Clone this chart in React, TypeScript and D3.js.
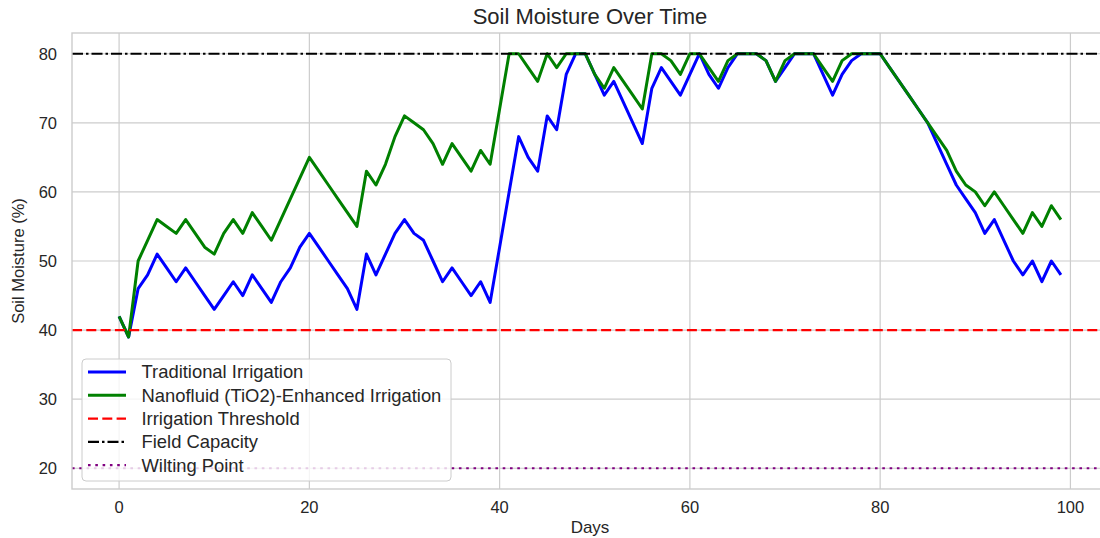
import * as d3 from 'd3';

const days = d3.range(0, 100);

const traditional = [
  42, 39, 46, 48, 51, 49, 47, 49, 47, 45,
  43, 45, 47, 45, 48, 46, 44, 47, 49, 52,
  54, 52, 50, 48, 46, 43, 51, 48, 51, 54,
  56, 54, 53, 50, 47, 49, 47, 45, 47, 44,
  52, 60, 68, 65, 63, 71, 69, 77, 80, 80,
  77, 74, 76, 73, 70, 67, 75, 78, 76, 74,
  77, 80, 77, 75, 78, 80, 80, 80, 79, 76,
  78, 80, 80, 80, 77, 74, 77, 79, 80, 80,
  80, 78, 76, 74, 72, 70, 67, 64, 61, 59,
  57, 54, 56, 53, 50, 48, 50, 47, 50, 48,
];

const nanofluid = [
  42, 39, 50, 53, 56, 55, 54, 56, 54, 52,
  51, 54, 56, 54, 57, 55, 53, 56, 59, 62,
  65, 63, 61, 59, 57, 55, 63, 61, 64, 68,
  71, 70, 69, 67, 64, 67, 65, 63, 66, 64,
  72, 80, 80, 78, 76, 80, 78, 80, 80, 80,
  77, 75, 78, 76, 74, 72, 80, 80, 79, 77,
  80, 80, 78, 76, 79, 80, 80, 80, 79, 76,
  79, 80, 80, 80, 78, 76, 79, 80, 80, 80,
  80, 78, 76, 74, 72, 70, 68, 66, 63, 61,
  60, 58, 60, 58, 56, 54, 57, 55, 58, 56,
];

const thresholds = [
  { label: 'Irrigation Threshold', value: 40, color: '#ff0000', dash: '10,4.3' },
  { label: 'Field Capacity', value: 80, color: '#000000', dash: '11,3,2.5,3' },
  { label: 'Wilting Point', value: 20, color: '#800080', dash: '2.6,4.7' },
];

const xTicks = [0, 20, 40, 60, 80, 100];
const yTicks = [20, 30, 40, 50, 60, 70, 80];

const W = 1100;
const H = 538;
const margin = { left: 72, right: 1108, top: 33, bottom: 489 };
const FONT = '"Liberation Sans", Arial, sans-serif';
const TEXT = '#262626';
const GRID = '#cccccc';

export default function App() {
  const x = d3.scaleLinear().domain([-4.95, 103.95]).range([margin.left, margin.right]);
  const y = d3.scaleLinear().domain([17, 83]).range([margin.bottom, margin.top]);

  const line = d3.line<number>()
    .x((_, i) => x(days[i]))
    .y(d => y(d));

  const legendItems = [
    { label: 'Traditional Irrigation', color: '#0000ff', dash: undefined as string | undefined, w: 3 },
    { label: 'Nanofluid (TiO2)-Enhanced Irrigation', color: '#008000', dash: undefined, w: 3 },
    ...thresholds.map(t => ({ label: t.label, color: t.color, dash: t.dash, w: 2.2 })),
  ];

  return (
    <svg width={W} height={H} style={{ position: 'absolute', left: 0, top: 0, background: '#fff' }} fontFamily={FONT}>
      <defs>
        <clipPath id="plot">
          <rect x={margin.left} y={margin.top} width={margin.right - margin.left} height={margin.bottom - margin.top} />
        </clipPath>
      </defs>
      <rect width={W} height={H} fill="#fff" />

      {/* grid */}
      {xTicks.map(t => (
        <line key={'gx' + t} x1={x(t)} x2={x(t)} y1={margin.top} y2={margin.bottom} stroke={GRID} strokeWidth={1.2} />
      ))}
      {yTicks.map(t => (
        <line key={'gy' + t} x1={margin.left} x2={margin.right} y1={y(t)} y2={y(t)} stroke={GRID} strokeWidth={1.2} />
      ))}

      {/* series + reference lines */}
      <g clipPath="url(#plot)">
        <path d={line(traditional) ?? ''} fill="none" stroke="#0000ff" strokeWidth={3} strokeLinejoin="round" />
        <path d={line(nanofluid) ?? ''} fill="none" stroke="#008000" strokeWidth={3} strokeLinejoin="round" />
        {thresholds.map(t => (
          <line key={t.label} x1={margin.left} x2={margin.right} y1={y(t.value)} y2={y(t.value)}
            stroke={t.color} strokeWidth={2.2} strokeDasharray={t.dash} />
        ))}
      </g>

      {/* frame */}
      <rect x={margin.left} y={margin.top} width={margin.right - margin.left} height={margin.bottom - margin.top}
        fill="none" stroke={GRID} strokeWidth={1.4} />

      {/* tick labels */}
      {xTicks.map(t => (
        <text key={'tx' + t} x={x(t)} y={512.5} textAnchor="middle" fontSize={16.5} fill={TEXT}>{t}</text>
      ))}
      {yTicks.map(t => (
        <text key={'ty' + t} x={57} y={y(t)} dy="0.35em" textAnchor="end" fontSize={16.5} fill={TEXT}>{t}</text>
      ))}

      {/* axis labels + title */}
      <text x={(margin.left + margin.right) / 2} y={533} textAnchor="middle" fontSize={17} fill={TEXT}>Days</text>
      <text transform={`translate(24,${(margin.top + margin.bottom) / 2}) rotate(-90)`} textAnchor="middle" fontSize={16.5} fill={TEXT}>
        Soil Moisture (%)
      </text>
      <text x={(margin.left + margin.right) / 2} y={24} textAnchor="middle" fontSize={22} fill={TEXT}>Soil Moisture Over Time</text>

      {/* legend */}
      <g>
        <rect x={82} y={359} width={369} height={122} rx={4} fill="#ffffff" fillOpacity={0.8} stroke={GRID} strokeWidth={1} />
        {legendItems.map((d, i) => {
          const cy = 372 + i * 23.3;
          return (
            <g key={d.label}>
              <line x1={88} x2={126} y1={cy} y2={cy} stroke={d.color} strokeWidth={d.w} strokeDasharray={d.dash} />
              <text x={141.5} y={cy} dy="0.35em" fontSize={18.4} fill={TEXT}>{d.label}</text>
            </g>
          );
        })}
      </g>
    </svg>
  );
}
